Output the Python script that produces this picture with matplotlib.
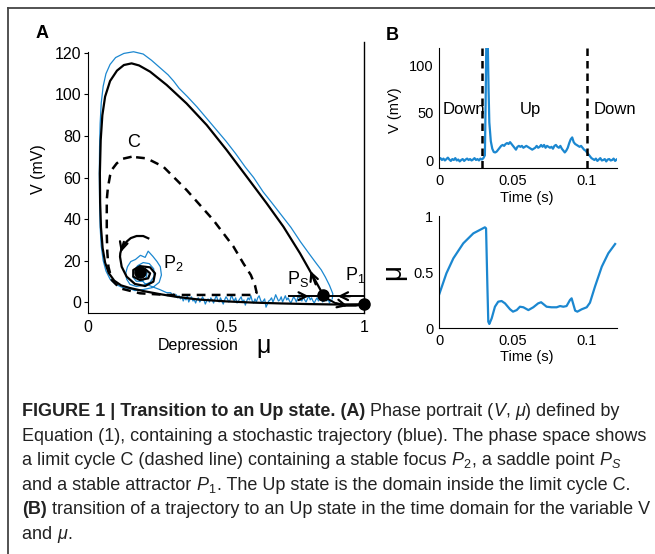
import matplotlib
matplotlib.use("Agg")
import matplotlib.pyplot as plt
from matplotlib.lines import Line2D
import numpy as np

plt.rcParams["font.family"] = ["Liberation Sans", "DejaVu Sans"]
plt.rcParams["mathtext.fontset"] = "custom"
plt.rcParams["mathtext.rm"] = "Liberation Sans"
plt.rcParams["mathtext.it"] = "Liberation Sans:italic"

BLUE = "#1b87d0"

# ---- panel A: phase portrait (mu, V) ----
outer_mu = [0.853, 0.816, 0.768, 0.708, 0.647, 0.575, 0.502, 0.430, 0.357, 0.285,
            0.225, 0.185, 0.158, 0.13, 0.105, 0.08, 0.062, 0.052, 0.046, 0.043,
            0.044, 0.047, 0.053, 0.062, 0.075, 0.095, 0.12, 0.15, 0.2, 0.26,
            0.32, 0.40, 0.5, 0.6, 0.7, 0.8, 0.9, 1.0]
outer_v = [3.2, 12.2, 23.5, 36.3, 47.6, 60.4, 73.3, 85.3, 95.7, 104.6,
           111.0, 114.0, 115.0, 114.2, 111.5, 106.5, 99, 90, 78, 62,
           48, 36, 26, 19, 14, 10.3, 8, 6.8, 5.3, 3.8,
           2.5, 1.2, 0.3, -0.3, -0.7, -1.0, -1.2, -1.1]

cycle_mu = [0.158, 0.125, 0.104, 0.088, 0.080, 0.072, 0.068, 0.068, 0.070, 0.074,
            0.086, 0.116, 0.188, 0.285, 0.406, 0.605, 0.611, 0.605, 0.590, 0.563,
            0.527, 0.454, 0.357, 0.273, 0.213, 0.158]
cycle_v = [70.0, 69.0, 66.8, 64.0, 61.0, 55.0, 49.2, 33.1, 24.0, 17.0,
           10.6, 6.6, 4.2, 3.4, 3.4, 3.4, 4.5, 8.0, 13.0, 18.6,
           26.7, 39.5, 54.0, 65.2, 69.2, 70.0]

spiral_mu = [0.2185, 0.20, 0.176, 0.155, 0.140, 0.128, 0.122, 0.117, 0.116, 0.122,
             0.140, 0.170, 0.207, 0.237, 0.243, 0.225, 0.188, 0.164, 0.164, 0.188,
             0.218, 0.225, 0.207, 0.19]
spiral_v = [30.7, 31.8, 31.8, 30.8, 29.1, 27.3, 25.9, 23.5, 21.8, 17.0,
            12.2, 8.7, 7.7, 9.8, 13.8, 16.7, 17.3, 15.4, 12.2, 10.6,
            11.4, 13.8, 15.9, 14.6]

manifold_mu = [0.73, 1.0]
manifold_v = [2.8, 2.8]
unstable_mu = [0.853, 0.875, 0.9, 0.93, 0.97, 1.0]
unstable_v = [3.2, 1.0, -0.8, -1.8, -1.8, -1.1]

fixed_mu = [0.19, 0.853, 1.0]
fixed_v = [14.6, 3.2, -1.1]

# stochastic trajectory
traj_mu = [0.885, 0.887, 0.875, 0.86, 0.845, 0.825, 0.80, 0.77, 0.735, 0.70,
           0.665, 0.635, 0.60, 0.57, 0.535, 0.50, 0.465, 0.43, 0.395, 0.36,
           0.33, 0.31, 0.29, 0.26, 0.23, 0.20, 0.165, 0.13, 0.10, 0.08,
           0.065, 0.055, 0.048, 0.044, 0.042, 0.041, 0.042, 0.044, 0.048, 0.055,
           0.065, 0.08, 0.10, 0.125, 0.15, 0.17,
           0.2, 0.235, 0.258, 0.266, 0.262, 0.25, 0.235, 0.218, 0.207, 0.19,
           0.172, 0.155, 0.143, 0.137, 0.14, 0.152, 0.175, 0.2, 0.225, 0.24,
           0.238, 0.222, 0.2, 0.18, 0.165, 0.163, 0.175, 0.195, 0.212, 0.214,
           0.2, 0.183, 0.18, 0.19, 0.205, 0.23, 0.26, 0.285]
traj_v = [1.5, 4, 8, 12, 15.5, 19, 23.5, 29, 36, 42,
          48, 53, 60, 65, 71.5, 77.5, 83, 88.5, 94, 99,
          103, 106.5, 109.5, 113, 116.5, 119.5, 120.6, 119.8, 117.8, 114.5,
          110, 104, 96, 86, 75, 62, 48, 36, 27, 20,
          15, 11, 8.5, 7, 6.5, 5.5,
          6, 7, 9.5, 13, 17, 19.5, 22, 24.5, 21.5, 22.5,
          20.5, 19.5, 17, 14, 11, 8.5, 7.5, 8, 9.5, 12.5,
          16, 18.5, 19, 17.5, 15, 12, 10, 10, 12, 15,
          16.5, 15, 12.5, 11.5, 9, 7.5, 6, 4.5]
bottom_v = [4.5, 3.0, 4.0, 2.5, 3.5, 2.0, 3.0, 1.5, 2.5, 0.5,
            2.0, 1.0, 3.0, 0.0, 1.5, 2.5, 0.5, 1.0, -0.5, 1.5,
            2.0, 0.0, 1.0, 2.5, 1.0, -1.0, 0.5, 1.5, 0.0, 2.0,
            1.0, -0.5, 1.5, 3.0, 1.0, 0.0, 2.0, 0.5, -1.0, 1.0,
            2.5, 1.5, 0.0, 1.0, 3.5, 1.5, 0.5, 2.0, -0.5, 0.5,
            1.5, 2.5, 0.0, 1.0, -1.5, 0.5, 2.0, 1.0, 3.0, 0.5,
            -0.5, 1.5, 0.0, 2.0, 3.0, 1.0, -0.5, 0.5, 1.5, -2.5,
            -1.0, 0.5, 1.0, 2.0, 0.0, 1.5, 3.5, 2.0, 0.5, 1.0,
            2.5, 0.0, 1.5, 3.0, 1.0, 2.0, 0.5, -0.5, 1.0, 2.5,
            1.5, 0.0, 2.0, 3.5, 1.0, 0.5, 2.5, 1.0, 0.0, 1.5,
            3.0, 1.0, 2.0, 0.5, -0.5, 1.0, 2.0, 0.5, 1.5, 2.5,
            0.0, 1.0, 2.0, 0.5, 1.5, -0.5, 1.0, 0.5]
bottom_mu = np.linspace(0.30, 0.885, len(bottom_v))

# ---- panel B: time courses ----
t_v = [0.000, 0.001, 0.002, 0.003, 0.004, 0.005, 0.006, 0.007, 0.008, 0.009,
       0.010, 0.011, 0.012, 0.013, 0.014, 0.015, 0.016, 0.017, 0.018, 0.019,
       0.020, 0.021, 0.022, 0.023, 0.024, 0.025, 0.026, 0.027, 0.028, 0.029,
       0.030, 0.031, 0.0315, 0.032, 0.0325, 0.033, 0.0335, 0.034, 0.035, 0.036,
       0.037, 0.038, 0.039, 0.040, 0.041, 0.042, 0.043, 0.044, 0.045, 0.046,
       0.047, 0.048, 0.049, 0.050, 0.051, 0.052, 0.053, 0.054, 0.055, 0.056,
       0.057, 0.058, 0.059, 0.060, 0.061, 0.062, 0.063, 0.064, 0.065, 0.066,
       0.067, 0.068, 0.069, 0.070, 0.071, 0.072, 0.073, 0.074, 0.075, 0.076,
       0.077, 0.078, 0.079, 0.080, 0.081, 0.082, 0.083, 0.084, 0.085, 0.086,
       0.087, 0.088, 0.089, 0.090, 0.091, 0.092, 0.093, 0.094, 0.095, 0.096,
       0.097, 0.098, 0.099, 0.100, 0.101, 0.102, 0.103, 0.104, 0.105, 0.106,
       0.107, 0.108, 0.109, 0.110, 0.111, 0.112, 0.113, 0.114, 0.115, 0.116,
       0.117, 0.118, 0.119, 0.120]
v_trace = [1, 2, 0, 1.5, -0.5, 1, 2.5, 0.5, -1, 1,
           0, 2, -0.5, 0.5, -1.5, 0, 1, -1, 0.5, 1.5,
           0, 1, -0.5, 0.5, 2, 0, 1, -0.5, 1.5, 0.5,
           2, 5, 60, 130, 135, 120, 75, 40, 20, 12,
           8.5, 8, 9, 11, 13, 15, 16, 15, 17, 18,
           17, 19, 17, 15, 13, 11, 14, 15, 14, 15,
           13, 14, 15, 14, 13, 12, 11, 12, 13, 15,
           13, 14, 16, 14, 16, 13, 15, 14, 13, 14,
           12, 15, 16, 14, 13, 15, 12, 10, 8, 10,
           13, 18, 22, 24, 19, 17, 16, 15, 14, 15,
           13, 11, 10, 8, 6, 4, 2, 1, 0, 1.5,
           -1, 0.5, 2, -0.5, 0, 1, -1.5, 0.5, 1, -0.5,
           0, 1.5, -1, 0.5]

t_mu = [0.0, 0.005, 0.0097, 0.0164, 0.0232, 0.031, 0.0318, 0.0327, 0.0333, 0.034,
        0.0356, 0.0378, 0.040, 0.0423, 0.0446, 0.048, 0.050, 0.0525, 0.0547, 0.057,
        0.0604, 0.0637, 0.067, 0.069, 0.0727, 0.076, 0.0795, 0.0818, 0.084, 0.0862,
        0.0885, 0.0896, 0.092, 0.0935, 0.0964, 0.0998, 0.102, 0.1054, 0.110, 0.1144,
        0.119]
mu_trace = [0.295, 0.488, 0.622, 0.756, 0.845, 0.899, 0.89, 0.37, 0.057, 0.036,
            0.086, 0.19, 0.235, 0.241, 0.22, 0.167, 0.146, 0.16, 0.19, 0.185,
            0.16, 0.185, 0.22, 0.23, 0.19, 0.185, 0.185, 0.196, 0.19, 0.196,
            0.25, 0.265, 0.155, 0.146, 0.167, 0.185, 0.226, 0.37, 0.548, 0.667,
            0.75]

fig = plt.figure(figsize=(6.55, 5.54), dpi=100)
W, H = 655.0, 554.0


def box(x0, y0, x1, y1):
    return [x0 / W, 1 - y1 / H, (x1 - x0) / W, (y1 - y0) / H]


# panel A
ax = fig.add_axes(box(88, 42, 364, 313))
ax.plot(traj_mu + list(bottom_mu), traj_v + bottom_v, color=BLUE, lw=0.9)
ax.plot(outer_mu, outer_v, color="k", lw=1.6)
ax.plot(cycle_mu, cycle_v, color="k", lw=1.8, ls=(0, (3.5, 2.5)))
ax.plot(spiral_mu, spiral_v, color="k", lw=1.6)
ax.plot(manifold_mu, manifold_v, color="k", lw=1.4)
ax.plot(unstable_mu, unstable_v, color="k", lw=1.4)
ax.plot(fixed_mu, fixed_v, "o", color="k", ms=8, clip_on=False, zorder=5)

arrows = [((0.825, 8.5), (0.806, 15.0)),
          ((0.76, 2.8), (0.80, 2.8)),
          ((0.95, 2.8), (0.905, 2.8)),
          ((0.90, -0.6), (0.94, -1.9)),
          ((0.13, 29.0), (0.119, 24.0))]
for tail, head in arrows:
    ax.annotate("", xy=head, xytext=tail,
                arrowprops=dict(arrowstyle="->", lw=1.6, color="k",
                                mutation_scale=14, shrinkA=0, shrinkB=0))

ax.set_xlim(0, 1)
ax.set_ylim(-5.3, 125.3)
ax.set_xticks([0, 0.5, 1])
ax.set_xticklabels(["0", "0.5", "1"])
ax.set_yticks([0, 20, 40, 60, 80, 100, 120])
ax.spines["top"].set_visible(False)
ax.spines["right"].set_linewidth(1.0)
ax.spines["left"].set_bounds(-5.3, 120.5)
ax.tick_params(labelsize=11.5, length=3, width=0.8, pad=2)
ax.tick_params(axis="x", length=0, pad=5)
ax.text(-0.18, 0.53, "V (mV)", transform=ax.transAxes, rotation=90,
        ha="center", va="center", fontsize=11.5)
ax.text(0.40, -0.12, "Depression", transform=ax.transAxes,
        ha="center", va="center", fontsize=11.5)
ax.text(0.635, -0.122, "\u03bc", transform=ax.transAxes,
        ha="center", va="center", fontsize=18)
ax.text(0.164, 77, "C", fontsize=13, ha="center", va="center")
ax.text(0.27, 19, r"$\mathregular{P_2}$", fontsize=13, ha="left", va="center")
ax.text(0.72, 11, r"$\mathregular{P_S}$", fontsize=13, ha="left", va="center")
ax.text(0.93, 13, r"$\mathregular{P_1}$", fontsize=13, ha="left", va="center")
fig.text(36 / W, 1 - 33 / H, "A", fontsize=13, fontweight="bold", va="center")

# panel B top
bx = fig.add_axes(box(439, 48, 616.6, 168))
bx.plot(t_v, v_trace, color=BLUE, lw=1.6)
bx.axvline(0.029, color="k", lw=1.8, ls=(0, (3, 2)))
bx.axvline(0.100, color="k", lw=1.8, ls=(0, (3, 2)))
bx.set_xlim(0, 0.12)
bx.set_ylim(-8.5, 119)
bx.set_xticks([0, 0.05, 0.1])
bx.set_xticklabels(["0", "0.05", "0.1"])
bx.set_yticks([0, 50, 100])
bx.text(0.0025, 54, "Down", fontsize=12, va="center")
bx.text(0.062, 54, "Up", fontsize=12, va="center", ha="center")
bx.text(0.1043, 54, "Down", fontsize=12, va="center", clip_on=False)
bx.text(-0.25, 0.48, "V (mV)", transform=bx.transAxes, rotation=90,
        ha="center", va="center", fontsize=10.5)
bx.text(0.494, -0.25, "Time (s)", transform=bx.transAxes,
        ha="center", va="center", fontsize=10.5)
fig.text(386 / W, 1 - 35 / H, "B", fontsize=13, fontweight="bold", va="center")

# panel B bottom
cx = fig.add_axes(box(439, 216, 616.6, 328))
cx.plot(t_mu, mu_trace, color=BLUE, lw=1.6)
cx.set_xlim(0, 0.12)
cx.set_ylim(0, 1)
cx.set_xticks([0, 0.05, 0.1])
cx.set_xticklabels(["0", "0.05", "0.1"])
cx.set_yticks([0, 0.5, 1])
cx.set_yticklabels(["0", "0.5", "1"])
cx.text(-0.26, 0.5, "\u03bc", transform=cx.transAxes, rotation=90,
        ha="center", va="center", fontsize=20)
cx.text(0.494, -0.26, "Time (s)", transform=cx.transAxes,
        ha="center", va="center", fontsize=10.5)

for a in (bx, cx):
    a.spines["top"].set_visible(False)
    a.spines["right"].set_visible(False)
    a.tick_params(labelsize=10.5, length=0, pad=4)

# frame of the figure box
fig.add_artist(Line2D([8 / W, 8 / W], [0, 1 - 8 / H], transform=fig.transFigure,
                      color="#444444", lw=1.3))
fig.add_artist(Line2D([8 / W, 1], [1 - 8 / H, 1 - 8 / H], transform=fig.transFigure,
                      color="#444444", lw=1.3))

# caption, drawn run by run
caption = [
    [("FIGURE 1 | Transition to an Up state. (A)", "bold", "normal"),
     (" Phase portrait (", "normal", "normal"), ("V", "normal", "italic"),
     (", ", "normal", "normal"), ("\u03bc", "normal", "italic"),
     (") defined by", "normal", "normal")],
    [("Equation (1), containing a stochastic trajectory (blue). The phase space shows",
      "normal", "normal")],
    [("a limit cycle C (dashed line) containing a stable focus ", "normal", "normal"),
     ("$P_2$", "normal", "normal"), (", a saddle point ", "normal", "normal"),
     ("$P_S$", "normal", "normal")],
    [("and a stable attractor ", "normal", "normal"), ("$P_1$", "normal", "normal"),
     (". The Up state is the domain inside the limit cycle C.", "normal", "normal")],
    [("(B)", "bold", "normal"),
     (" transition of a trajectory to an Up state in the time domain for the variable V",
      "normal", "normal")],
    [("and ", "normal", "normal"), ("\u03bc", "normal", "italic"), (".", "normal", "normal")],
]
line_y = [416, 441, 465, 490, 514, 539]
renderer = fig.canvas.get_renderer()

# size the caption font so the second line fills the box width
probe = fig.text(0, 0, caption[1][0][0], fontsize=10)
cap_size = 10 * 628 / probe.get_window_extent(renderer=renderer).width
probe.remove()

for runs, yb in zip(caption, line_y):
    x = 22 / W
    for s, wt, st in runs:
        t = fig.text(x, 1 - yb / H, s, fontsize=cap_size, fontweight=wt, style=st,
                     va="baseline", ha="left", color="#222222")
        x += t.get_window_extent(renderer=renderer).width / fig.bbox.width

fig.savefig("out.png", dpi=100)
